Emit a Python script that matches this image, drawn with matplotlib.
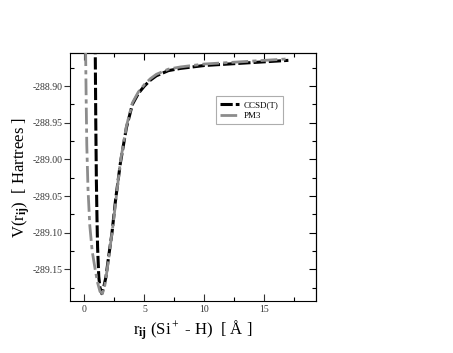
import numpy as np
import matplotlib
matplotlib.use('Agg')
import matplotlib.pyplot as plt
from matplotlib.ticker import MultipleLocator

# values
r_ccsd = [0.90, 0.95, 1.00, 1.05, 1.10, 1.20, 1.30, 1.45, 1.60, 1.80, 2.00, 2.30, 2.60,
          3.00, 3.50, 4.00, 4.50, 5.00, 5.50, 6.00, 7.00, 8.00, 9.00, 10.0, 11.0, 12.0,
          13.0, 14.0, 15.0, 16.0, 17.0]
v_ccsd = [-288.84, -288.95, -289.03, -289.08, -289.12, -289.16, -289.175, -289.183,
          -289.175, -289.160, -289.135, -289.100, -289.055, -289.005, -288.957, -288.925,
          -288.910, -288.900, -288.892, -288.886, -288.879, -288.876, -288.874, -288.872,
          -288.871, -288.870, -288.869, -288.868, -288.867, -288.866, -288.865]

r_pm3 = [0.10, 0.15, 0.20, 0.30, 0.45, 0.65, 0.90, 1.10, 1.30, 1.50, 1.70, 1.90, 2.10,
         2.40, 2.70, 3.00, 3.50, 4.00, 4.50, 5.00, 5.50, 6.00, 7.00, 8.00, 9.00, 10.0,
         11.0, 12.0, 13.0, 14.0, 15.0, 16.0, 17.0]
v_pm3 = [-288.85, -288.92, -288.98, -289.04, -289.09, -289.125, -289.15, -289.168,
         -289.180, -289.183, -289.172, -289.150, -289.125, -289.088, -289.045, -289.003,
         -288.955, -288.923, -288.908, -288.898, -288.890, -288.884, -288.877, -288.874,
         -288.872, -288.870, -288.869, -288.868, -288.867, -288.866, -288.865, -288.864,
         -288.863]

plt.rcParams['font.family'] = ['Liberation Serif', 'DejaVu Serif']
plt.rcParams['mathtext.fontset'] = 'custom'
plt.rcParams['mathtext.rm'] = 'Liberation Serif'
plt.rcParams['mathtext.it'] = 'Liberation Serif'
plt.rcParams['mathtext.bf'] = 'Liberation Serif:bold'

fig = plt.figure(figsize=(4.53, 3.53), dpi=100)
ax = fig.add_axes([0.1545, 0.1473, 0.543, 0.7025])

ax.plot(r_ccsd, v_ccsd, color='black', lw=2.2, dashes=(4, 1), label='CCSD(T)', zorder=3)
ax.plot(r_pm3, v_pm3, color='#8c8c8c', lw=2.0, dashes=(6, 1.5, 1.5, 1.5), label='PM3', zorder=4)

ax.set_xlim(-1.2, 19.3)
ax.set_ylim(-289.193, -288.855)

ax.xaxis.set_major_locator(MultipleLocator(5))
ax.xaxis.set_minor_locator(MultipleLocator(2.5))
ax.yaxis.set_major_locator(MultipleLocator(0.05))
ax.yaxis.set_minor_locator(MultipleLocator(0.025))
ax.yaxis.set_major_formatter(plt.FuncFormatter(lambda v, p: '%.2f' % v))

ax.tick_params(which='major', axis='x', direction='in', length=5, width=0.8,
               labelsize=7, colors='#333333', pad=3)
ax.tick_params(which='minor', axis='x', direction='in', length=3, width=0.8)
ax.tick_params(which='major', axis='y', direction='out', length=4, width=0.8,
               labelsize=7, colors='#333333', pad=1)
ax.tick_params(which='minor', axis='y', direction='in', length=3, width=0.8)

# inward ticks on the top and right sides
top = ax.secondary_xaxis('top')
top.xaxis.set_major_locator(MultipleLocator(5))
top.xaxis.set_minor_locator(MultipleLocator(2.5))
top.tick_params(which='major', direction='in', length=5, width=0.8, labeltop=False)
top.tick_params(which='minor', direction='in', length=3, width=0.8)
right = ax.secondary_yaxis('right')
right.yaxis.set_major_locator(MultipleLocator(0.05))
right.yaxis.set_minor_locator(MultipleLocator(0.025))
right.tick_params(which='major', direction='in', length=5, width=0.8, labelright=False)
right.tick_params(which='minor', direction='in', length=3, width=0.8)

for s in ax.spines.values():
    s.set_linewidth(0.8)

ax.set_xlabel(r'r$_{\mathbf{ij}}$ (Si$^+$ - H)  [ Å ]', fontsize=12, labelpad=3)
ax.set_ylabel(r'V(r$_{\mathbf{ij}}$)  [ Hartrees ]', fontsize=12, labelpad=1)

leg = ax.legend(loc='upper left', bbox_to_anchor=(0.575, 0.845), fontsize=6.5,
                frameon=True, fancybox=False, edgecolor='#999999', handlelength=2.0,
                borderpad=0.5, labelspacing=0.3, handletextpad=0.6)
leg.get_frame().set_linewidth(0.8)

fig.savefig('out.png', dpi=100)
